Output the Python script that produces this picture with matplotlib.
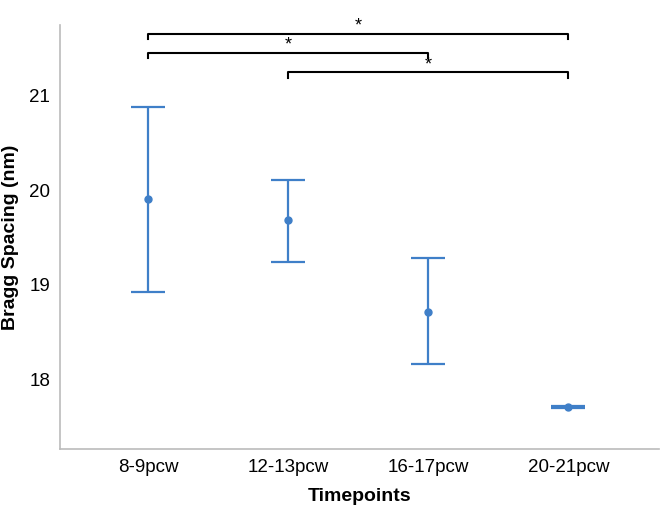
import numpy as np
import matplotlib.pyplot as plt

plt.rcParams['font.family'] = ['Liberation Sans', 'DejaVu Sans']

timepoints = ["8-9pcw", "12-13pcw", "16-17pcw", "20-21pcw"]
means = [19.91, 19.68, 18.72, 17.71]
upper = [20.88, 20.11, 19.28, 17.72]
lower = [18.93, 19.24, 18.17, 17.70]

# significance brackets: (from, to, height)
brackets = [(0, 3, 21.65), (0, 2, 21.45), (1, 3, 21.24)]

x = np.arange(len(timepoints))
means = np.array(means)
yerr = [means - np.array(lower), np.array(upper) - means]

fig = plt.figure(figsize=(6.66, 5.21), dpi=100)
ax = fig.add_axes([0.09, 0.138, 0.9, 0.814])

color = "#3f7fc8"
ax.errorbar(x, means, yerr=yerr, fmt='o', color=color, ms=5,
            elinewidth=1.6, capsize=12, capthick=1.6)

for a, b, h in brackets:
    ax.plot([a, a, b, b], [h - 0.06, h, h, h - 0.06], color='black', lw=1.5)
    ax.text((a + b) / 2, h - 0.01, '*', ha='center', va='bottom', fontsize=13)

ax.set_xlim(-0.63, 3.65)
ax.set_ylim(17.27, 21.74)
ax.set_yticks([18, 19, 20, 21])
ax.set_xticks(x)
ax.set_xticklabels(timepoints)
ax.tick_params(length=0, labelsize=13.5, pad=7)

for s in ["top", "right"]:
    ax.spines[s].set_visible(False)
for s in ["left", "bottom"]:
    ax.spines[s].set_color("#bbbbbb")
    ax.spines[s].set_linewidth(1.2)

ax.set_xlabel("Timepoints", fontsize=14, fontweight='bold', labelpad=9)
ax.set_ylabel("Bragg Spacing (nm)", fontsize=14, fontweight='bold', labelpad=7)

fig.savefig("out.png", dpi=100)
